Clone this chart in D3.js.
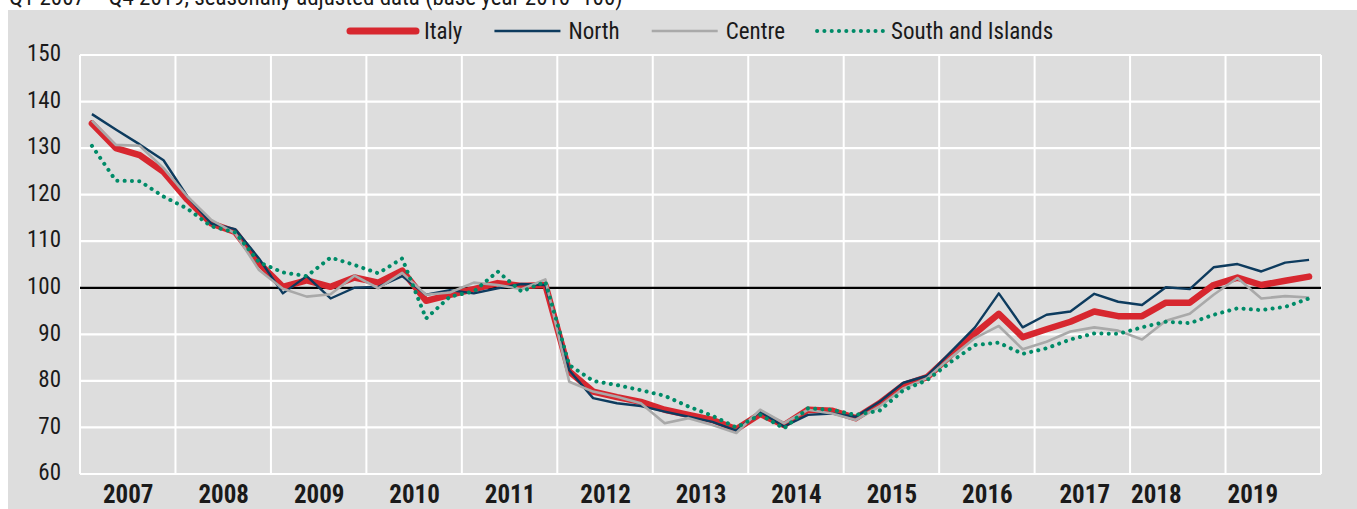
<!DOCTYPE html>
<html>
<head>
<meta charset="utf-8">
<script src="https://cdn.jsdelivr.net/npm/d3@7/dist/d3.min.js"></script>
<style>
  html, body { margin: 0; padding: 0; background: #ffffff; }
  svg { display: block; }
  text { font-family: "Liberation Sans Narrow", "Arial Narrow", "Roboto Condensed", sans-serif; fill: #1a1a1a; }
</style>
</head>
<body>
<svg id="chart" width="1357" height="509"></svg>
<script>
// ---------------- DATA ----------------
const years = [2007, 2008, 2009, 2010, 2011, 2012, 2013, 2014, 2015, 2016, 2017, 2018, 2019];
const quarterNames = ["Q1", "Q2", "Q3", "Q4"];
const quarters = [];
years.forEach(y => quarterNames.forEach(q => quarters.push(q + " " + y)));

const italy = [135.3, 130.0, 128.5, 124.9, 118.9, 113.8, 112.0, 105.3, 100.2, 101.6, 100.2, 102.2,
               101.1, 103.7, 97.2, 98.5, 99.7, 101.0, 100.4, 100.6, 82.0, 77.7, 76.5, 75.5,
               73.8, 72.7, 71.6, 69.6, 72.9, 70.5, 73.8, 73.6, 72.0, 75.2, 79.1, 80.8,
               85.6, 90.2, 94.4, 89.4, 91.1, 92.7, 94.9, 93.9, 93.9, 96.8, 96.8, 100.6,
               102.2, 100.6, 101.5, 102.4];
const north = [137.3, 134.0, 130.8, 127.4, 119.6, 113.8, 112.6, 106.3, 98.8, 102.5, 97.7, 100.0,
               100.2, 102.5, 98.5, 99.5, 98.8, 99.9, 100.8, 100.6, 82.3, 76.3, 75.2, 74.6,
               73.4, 72.3, 71.2, 69.3, 73.4, 70.2, 72.7, 73.0, 72.3, 75.5, 79.6, 81.1,
               86.3, 91.5, 98.8, 91.5, 94.2, 94.9, 98.7, 97.0, 96.3, 100.1, 99.7, 104.4,
               105.1, 103.5, 105.4, 106.0];
const centre = [135.9, 130.7, 130.5, 125.7, 119.6, 114.6, 111.7, 103.8, 99.8, 98.1, 98.6, 102.6,
                99.9, 103.2, 98.5, 99.0, 101.1, 100.6, 99.7, 101.8, 79.8, 77.7, 76.6, 75.2,
                70.9, 72.0, 70.5, 68.8, 73.8, 70.9, 73.8, 73.0, 71.6, 74.5, 78.4, 80.6,
                85.1, 89.2, 91.8, 86.8, 88.4, 90.6, 91.5, 90.8, 88.9, 92.9, 94.4, 98.5,
                102.1, 97.7, 98.2, 97.9];
const south = [130.5, 123.0, 122.9, 119.6, 117.0, 113.2, 111.9, 105.5, 103.3, 102.5, 106.5, 104.9,
               103.1, 106.3, 93.4, 98.1, 99.2, 103.5, 99.2, 101.3, 83.4, 80.0, 79.1, 78.0,
               76.8, 74.5, 72.5, 70.0, 72.7, 69.8, 74.1, 73.8, 72.7, 73.6, 78.0, 80.2,
               84.1, 87.7, 88.2, 85.8, 87.0, 88.9, 90.2, 90.1, 91.5, 92.7, 92.4, 94.2,
               95.6, 95.2, 95.9, 97.7];

const yTicks = [60, 70, 80, 90, 100, 110, 120, 130, 140, 150];
const yearLabels = ["2007", "2008", "2009", "2010", "2011", "2012", "2013", "2014", "2015", "2016", "2017", "2018", "2019"];
const yearLabelPos = [2007.5, 2008.5, 2009.5, 2010.5, 2011.5, 2012.5, 2013.5, 2014.5, 2015.5, 2016.5, 2017.52, 2018.27, 2019.28];
const subtitle = "Q1 2007 \u2013 Q4 2019, seasonally adjusted data (base year 2010=100)";
const seriesNames = ["Italy", "North", "Centre", "South and Islands"];

// ---------------- STYLE ----------------
const seriesStyle = {
  "Italy":  { color: "#d7272f", width: 6.5, dash: null, cap: "round" },
  "North":  { color: "#0d3b5e", width: 2.4, dash: null, cap: "butt" },
  "Centre": { color: "#a9a9a9", width: 2.6, dash: null, cap: "butt" },
  "South and Islands": { color: "#008b68", width: 4, dash: "0.1 7.2", cap: "round" }
};
const seriesData = { "Italy": italy, "North": north, "Centre": centre, "South and Islands": south };

const W = 1357, H = 509;
const plot = { left: 80, right: 1321, top: 55, bottom: 474 };

const svg = d3.select("#chart");

// background panel
svg.append("rect").attr("x", 8).attr("y", 10).attr("width", W - 8).attr("height", H - 10).attr("fill", "#dddddd");

// subtitle (partly above the visible area, as in the source)
svg.append("text").attr("x", 9).attr("y", 5).attr("font-size", 23).attr("fill", "#333").text(subtitle);

const x = d3.scaleLinear().domain([2007, 2020]).range([plot.left, plot.right]);
const y = d3.scaleLinear().domain([60, 150]).range([plot.bottom, plot.top]);
const qx = i => x(2007 + (i + 0.5) / 4);

// grid
const grid = svg.append("g");
grid.selectAll("line.h").data(yTicks).join("line")
  .attr("x1", plot.left).attr("x2", plot.right)
  .attr("y1", d => y(d)).attr("y2", d => y(d))
  .attr("stroke", "#ffffff").attr("stroke-width", 2.2);
const yearBounds = years.concat([2020]);
grid.selectAll("line.v").data(yearBounds).join("line")
  .attr("x1", d => x(d)).attr("x2", d => x(d))
  .attr("y1", plot.top).attr("y2", plot.bottom)
  .attr("stroke", "#ffffff").attr("stroke-width", 2);

// y axis labels
const yAxis = d3.axisLeft(y).tickValues(yTicks).tickSize(0).tickPadding(0).tickFormat(d3.format("d"));
const ya = svg.append("g").attr("transform", `translate(${61},0)`).call(yAxis);
ya.select(".domain").remove();
ya.selectAll("text").attr("font-size", 23).attr("font-family", null).attr("fill", "#1a1a1a").attr("dy", "0.25em");

// x axis labels
const xAxis = d3.axisBottom(x).tickValues(yearLabelPos).tickSize(0).tickPadding(0)
  .tickFormat((d, i) => yearLabels[i]);
const xa = svg.append("g").attr("transform", `translate(0,${503})`).call(xAxis);
xa.select(".domain").remove();
xa.selectAll("text").attr("font-size", 25).attr("font-weight", "bold").attr("font-family", null)
  .attr("fill", "#111").attr("dy", 0).attr("y", 0);

// 100 reference line
svg.append("line").attr("x1", plot.left).attr("x2", plot.right)
  .attr("y1", y(100)).attr("y2", y(100)).attr("stroke", "#000").attr("stroke-width", 2.2);

// series
const line = d3.line().x((d, i) => qx(i)).y(d => y(d)).curve(d3.curveLinear);
seriesNames.forEach(name => {
  const st = seriesStyle[name];
  svg.append("path").datum(seriesData[name])
    .attr("d", line)
    .attr("fill", "none")
    .attr("stroke", st.color)
    .attr("stroke-width", st.width)
    .attr("stroke-linejoin", "round")
    .attr("stroke-linecap", st.cap)
    .attr("stroke-dasharray", st.dash);
});

// legend
const legend = svg.append("g");
const lineLen = 66, gapText = 8, gapItem = 32, legY = 31;
let cursor = 0;
seriesNames.forEach(name => {
  const g = legend.append("g");
  const st = seriesStyle[name];
  g.append("line").attr("x1", 0).attr("x2", lineLen).attr("y1", 0).attr("y2", 0)
    .attr("stroke", st.color).attr("stroke-width", name === "Italy" ? 7 : st.width)
    .attr("stroke-linecap", st.cap).attr("stroke-dasharray", st.dash);
  const t = g.append("text").attr("x", lineLen + gapText).attr("y", 0).attr("dy", "0.35em")
    .attr("font-size", 23).text(name);
  const tw = t.node().getComputedTextLength();
  g.attr("transform", `translate(${cursor},${legY})`);
  cursor += lineLen + gapText + tw + gapItem;
});
legend.attr("transform", `translate(350,0)`);
</script>
</body>
</html>
